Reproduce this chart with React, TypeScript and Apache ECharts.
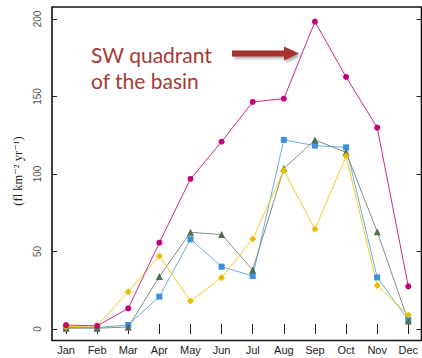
import React, { useEffect, useRef } from "react";
import * as echarts from "echarts";

const months = ["Jan", "Feb", "Mar", "Apr", "May", "Jun", "Jul", "Aug", "Sep", "Oct", "Nov", "Dec"];
const yTicks = [0, 50, 100, 150, 200];
const swQuadrant = [2.5, 2, 13.3, 55.7, 96.8, 120.8, 146.5, 148.6, 198.3, 162.6, 129.9, 27.5];
const blueSeries = [1, 1, 2.6, 20.9, 57.9, 40.2, 34.2, 122, 118.3, 117.2, 33.3, 5.8];
const greenSeries = [0.5, 0.5, 1.3, 33.8, 62.4, 60.9, 38.1, 103.5, 122, 114, 62.8, 5.2];
const yellowSeries = [1.5, 2.1, 24, 47.1, 18, 33.1, 58, 102.3, 64.3, 111.6, 28, 9];

export default function App() {
  const ref = useRef<HTMLDivElement>(null);
  useEffect(() => {
    if (!ref.current) return;
    const chart = echarts.init(ref.current, null, { renderer: "svg" });
    const mk = (name: string, data: number[], line: string, marker: string, symbol: string, size: number) => ({
      name,
      type: "line",
      data,
      symbol,
      symbolSize: size,
      lineStyle: { color: line, width: 1 },
      itemStyle: { color: marker },
      xAxisIndex: 0,
      yAxisIndex: 0,
    });
    chart.setOption({
      animation: false,
      backgroundColor: "#ffffff",
      grid: { left: 66, right: 13.7, top: 19, bottom: 29 },
      xAxis: [
        {
          type: "category",
          data: months,
          boundaryGap: false,
          position: "bottom",
          offset: 11.5,
          axisLine: { show: false },
          axisTick: { show: true, inside: true, length: 5, interval: 0, lineStyle: { color: "#222", width: 1 } },
          axisLabel: { interval: 0, color: "#222", fontSize: 11, fontFamily: "Liberation Sans, Arial", margin: 4 },
          splitLine: { show: false },
        },
        {
          type: "category",
          data: months,
          boundaryGap: false,
          position: "top",
          offset: 12,
          axisLine: { show: false },
          axisTick: { show: true, inside: true, length: 5, interval: 0, lineStyle: { color: "#222", width: 1 } },
          axisLabel: { show: false },
          splitLine: { show: false },
        },
      ],
      yAxis: [
        {
          type: "value",
          min: 0,
          max: 200,
          interval: 50,
          position: "left",
          offset: 14,
          axisLine: { show: false },
          axisTick: { show: true, inside: true, length: 5, lineStyle: { color: "#222", width: 1 } },
          axisLabel: {
            rotate: 90,
            color: "#555",
            fontSize: 10,
            fontFamily: "Liberation Sans, Arial",
            margin: 10,
            formatter: (v: number) => (yTicks.includes(v) ? String(v) : ""),
          },
          splitLine: { show: false },
        },
        {
          type: "value",
          min: 0,
          max: 200,
          interval: 50,
          position: "right",
          offset: 13.2,
          axisLine: { show: false },
          axisTick: { show: true, inside: true, length: 5, lineStyle: { color: "#222", width: 1 } },
          axisLabel: { show: false },
          splitLine: { show: false },
        },
      ],
      graphic: [
        {
          type: "rect",
          shape: { x: 52, y: 7, width: 369.5, height: 333.5 },
          style: { fill: "none", stroke: "#111", lineWidth: 1.6 },
          silent: true,
          z: 10,
        },
        {
          type: "text",
          x: 18,
          y: 171,
          rotation: Math.PI / 2,
          style: {
            text: "(fl km⁻² yr⁻¹)",
            font: "12.5px 'Liberation Serif', 'DejaVu Serif', serif",
            fill: "#222",
            textAlign: "center",
            textVerticalAlign: "middle",
          },
        },
        {
          type: "text",
          x: 91,
          y: 41,
          style: {
            text: "SW quadrant\nof the basin",
            font: "21px Lato, 'Open Sans', sans-serif",
            fill: "#a63a36",
            lineHeight: 26,
            textAlign: "left",
            textVerticalAlign: "top",
          },
          z: 20,
        },
        {
          type: "polygon",
          shape: {
            points: [
              [232, 50.5],
              [284, 50.5],
              [284, 46.5],
              [299, 53.5],
              [284, 60.5],
              [284, 56.5],
              [232, 56.5],
            ],
          },
          style: {
            fill: "#a8322d",
            shadowBlur: 3,
            shadowOffsetX: 2,
            shadowOffsetY: 2,
            shadowColor: "rgba(0,0,0,0.35)",
          },
          z: 20,
        },
      ],
      series: [
        mk("blue", blueSeries, "#6aaee6", "#3d8fe0", "rect", 6),
        mk("green", greenSeries, "#7f917f", "#4f6e4f", "triangle", 7),
        mk("yellow", yellowSeries, "#f2cd22", "#e8bd00", "diamond", 7),
        mk("SW quadrant", swQuadrant, "#cc2a8c", "#c4007c", "circle", 6),
      ],
    });
    return () => chart.dispose();
  }, []);
  return <div ref={ref} style={{ position: "fixed", left: 0, top: 0, width: 422, height: 358 }} />;
}
